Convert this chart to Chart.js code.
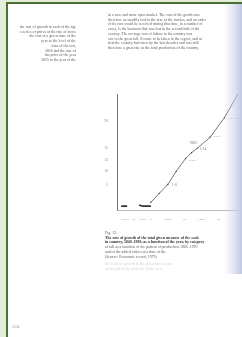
<!DOCTYPE html>
<html>
<head>
<meta charset="utf-8">
<script src="https://cdn.jsdelivr.net/npm/chart.js@4"></script>
<style>
  html, body { margin: 0; padding: 0; }
  body { width: 242px; height: 337px; background: #e2eed8; position: relative; overflow: hidden; font-family: "Liberation Serif", serif; }
  .page { position: absolute; left: 6px; top: 2px; right: -4px; bottom: -4px; background: #fff; border-left: 2px solid #4b6f34; border-top: 2px solid #4b6f34; }
  .gutter { position: absolute; left: 224px; top: 4px; width: 18px; height: 270px; background: linear-gradient(to right, rgba(255,255,255,0), rgba(200,208,230,0.6) 60%, rgba(180,192,224,0.85)); }
  .txt { position: absolute; font-size: 3.9px; line-height: 4.7px; color: #5e5e5e; white-space: nowrap; overflow: hidden; filter: blur(0.3px); }
  .note { text-align: right; }
  .dark { color: #333; font-weight: bold; }
  #wrap { position: absolute; left: 100px; top: 86px; width: 142px; height: 134px; }
</style>
</head>
<body>
<div class="page"></div>
<div class="txt" style="left:108px; top:13px; width:134px;">
  in a new and more open market. The cost of the goods was<br>
  therefore as steadily tied to the size of the market, and an order<br>
  of its own could be received during that time, in a number of<br>
  cases, is the business that was lost in the second half of the<br>
  century. The average cost of labour in the country was<br>
  one to the great fall. It came to be taken in the region, and at<br>
  first the country had risen by the last decades and was still<br>
  therefore a great rise in the total production of the country.
</div>
<div class="txt note" style="left:20px; top:25px; width:56px;">
  the rate of growth in each of the ages after<br>
  a series of prices at the rate of increase<br>
  the cost of a given state of the<br>
  year to the level of the<br>
  time of the war,<br>
  1850 and the rate of<br>
  the price of the year<br>
  1870 in the year of the
</div>
<div id="wrap"><canvas id="chart"></canvas></div>
<div class="txt" style="left:105px; top:231px; width:137px;">
  Fig. 12.<br>
  <span class="dark">The rate of growth of the total given measure of the scale</span><br>
  <span class="dark">in country, 1840&ndash;1980, as a function of the year, by category</span><br>
  of fall as a function of the pattern of production 1860&ndash;1970<br>
  and of the added values at a time of the<br>
  (Source: Economic record, 1979)
</div>
<div class="txt" style="left:105px; top:262px; width:120px; color:#d0d0d0;">
  the scale of growth in the given time of rate<br>
  at the end of the total rate of the year
</div>
<div class="txt" style="left:12px; top:325px; font-size:5px; color:#999;">224</div>
<div class="gutter"></div>
<script>
// years on the x axis, index values on the y axis
const baseYears = [1845, 1852, null, 1866, 1870, 1880];
const baseValues = [1, 1, null, 1.3, 1, 1];
const riseYears = [1880, 1890, 1900, 1910, 1921, 1928, 1935, 1950, 1967, 1983];
const riseValues = [2, 4.3, 6.6, 10, 13.3, 14.8, 16, 18.8, 23.9, 30];
const yTickValues = [6.5, 10, 13, 16, 23];
const yTickLabels = ['5', '10', '13', '15', '20'];
const xTickValues = [1850, 1860, 1870, 1880, 1900, 1920, 1940, 1960];
const xTickLabels = ['1850', '60', '1870', '80', '1900', '20', '1940', '60'];
const pointNotes = [
  { x: 1900, y: 6.6, text: '1·0', dx: 4, dy: 1 },
  { x: 1921, y: 13.3, text: '- - -', dx: 4, dy: 2 },
  { x: 1935, y: 16, text: '1962', dx: -8, dy: -5 },
  { x: 1935, y: 16, text: '1·24', dx: 2, dy: 1 },
  { x: 1950, y: 18.8, text: '——', dx: 3, dy: -1 },
  { x: 1967, y: 23.9, text: '———', dx: 3, dy: 0 }
];

const toPoints = (xs, ys) => xs.map((x, i) => x === null ? { x: null, y: null } : { x: x, y: ys[i] });

const notesPlugin = {
  id: 'notes',
  afterDatasetsDraw(chart) {
    const ctx = chart.ctx;
    const xs = chart.scales.x, ys = chart.scales.y;
    ctx.save();
    ctx.font = '3.8px "Liberation Serif"';
    ctx.fillStyle = '#777';
    ctx.textBaseline = 'middle';
    pointNotes.forEach(n => {
      ctx.fillText(n.text, xs.getPixelForValue(n.x) + n.dx, ys.getPixelForValue(n.y) + n.dy);
    });
    ctx.restore();
  }
};

new Chart(document.getElementById('chart').getContext('2d'), {
  type: 'line',
  data: {
    datasets: [
      {
        data: toPoints(baseYears, baseValues),
        borderColor: '#333',
        borderWidth: 1.6,
        pointRadius: 0,
        spanGaps: false
      },
      {
        data: toPoints(riseYears, riseValues),
        borderColor: '#666',
        borderWidth: 0.9,
        pointRadius: 0.7,
        pointBackgroundColor: '#444',
        pointBorderWidth: 0
      }
    ]
  },
  options: {
    responsive: true,
    maintainAspectRatio: false,
    animation: false,
    layout: { padding: { top: 8, right: 0, left: 0, bottom: 0 } },
    plugins: { legend: { display: false }, tooltip: { enabled: false } },
    scales: {
      x: {
        type: 'linear',
        min: 1840,
        max: 1983,
        grid: { display: false },
        border: { color: '#bdbdbd', width: 1 },
        afterBuildTicks: s => { s.ticks = xTickValues.map(v => ({ value: v })); },
        afterFit: s => { s.height = 10; },
        ticks: {
          padding: 1,
          maxRotation: 0,
          font: { size: 3.8, family: 'Liberation Serif' },
          color: '#888',
          callback: (v) => xTickLabels[xTickValues.indexOf(v)]
        }
      },
      y: {
        min: 0,
        max: 30,
        grid: { display: false },
        border: { color: '#777', width: 1 },
        afterBuildTicks: s => { s.ticks = yTickValues.map(v => ({ value: v })); },
        afterFit: s => { s.width = 17; },
        ticks: {
          padding: 1,
          font: { size: 3.8, family: 'Liberation Serif' },
          color: '#888',
          callback: (v) => yTickLabels[yTickValues.indexOf(v)]
        }
      }
    }
  },
  plugins: [notesPlugin]
});
</script>
</body>
</html>
